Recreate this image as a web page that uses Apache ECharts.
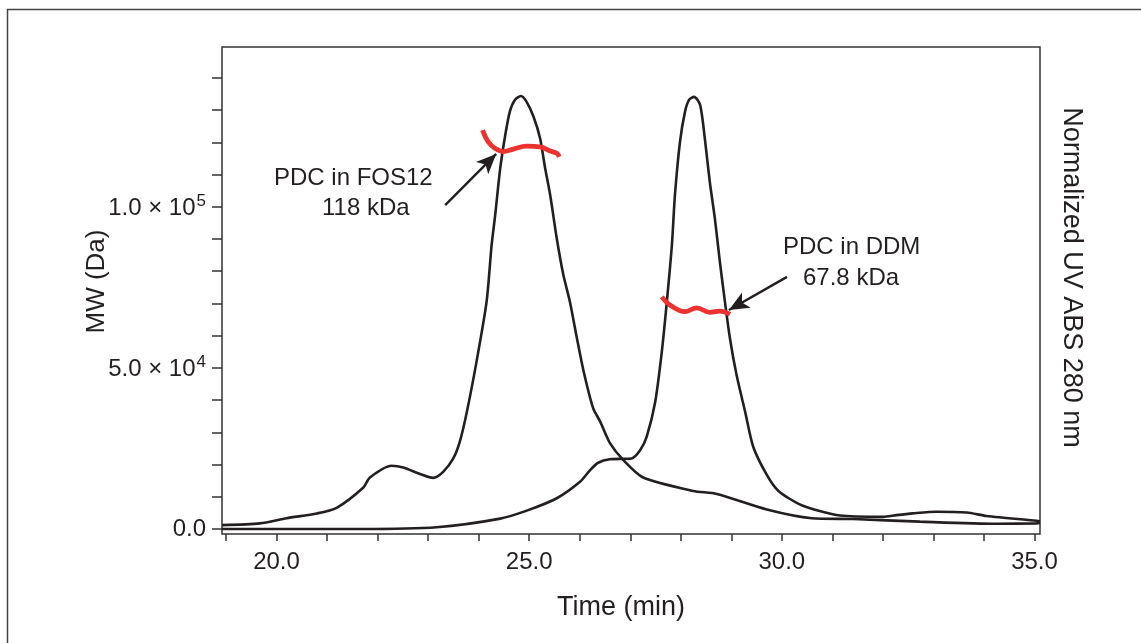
<!DOCTYPE html>
<html>
<head>
<meta charset="utf-8">
<script src="https://cdn.jsdelivr.net/npm/echarts@6/dist/echarts.min.js"></script>
<style>
  html, body { margin: 0; padding: 0; background: #fff; }
  #chart { width: 1141px; height: 643px; }
</style>
</head>
<body>
<div id="chart"></div>
<script>
// UV trace, PDC in FOS12 (normalized)
const fosTime = [18.92, 19.67, 20.2, 20.8, 21.19, 21.72, 21.85, 22.28, 22.51, 22.84, 23.1, 23.3, 23.5, 23.63, 23.77,
  23.96, 24.16, 24.26, 24.33, 24.43, 24.53, 24.62, 24.72, 24.84, 24.95, 25.09, 25.22, 25.32, 25.42, 25.55, 25.68,
  25.81, 25.95, 26.08, 26.27, 26.41, 26.6, 26.87, 27.26, 28.25, 28.72, 29.71, 30.6, 31.42, 32.74, 34.26, 35.05, 35.12];
const fosUv = [0.009, 0.013, 0.025, 0.036, 0.049, 0.096, 0.119, 0.146, 0.142, 0.127, 0.118, 0.132, 0.163, 0.202, 0.271,
  0.386, 0.525, 0.656, 0.725, 0.833, 0.91, 0.964, 0.991, 1.0, 0.987, 0.952, 0.902, 0.833, 0.771, 0.671, 0.587,
  0.525, 0.44, 0.365, 0.279, 0.248, 0.199, 0.159, 0.119, 0.088, 0.081, 0.045, 0.025, 0.023, 0.017, 0.012, 0.013, 0.014];

// UV trace, PDC in DDM (normalized)
const ddmTime = [18.92, 21.65, 23.17, 24.43, 24.97, 25.55, 26.01, 26.21, 26.37, 26.6, 27.03, 27.2, 27.33, 27.5, 27.63,
  27.73, 27.83, 27.89, 27.99, 28.09, 28.17, 28.27, 28.39, 28.49, 28.58, 28.68, 28.78, 28.88, 28.98, 29.11, 29.28,
  29.44, 29.71, 29.94, 30.4, 31.16, 32.01, 32.28, 32.6, 33.07, 33.67, 34.06, 35.05, 35.12];
const ddmUv = [0.0, 0.0, 0.004, 0.024, 0.043, 0.071, 0.109, 0.136, 0.153, 0.161, 0.163, 0.182, 0.213, 0.294, 0.409,
  0.525, 0.656, 0.771, 0.894, 0.964, 0.991, 0.998, 0.979, 0.894, 0.802, 0.718, 0.617, 0.525, 0.44, 0.356, 0.271,
  0.19, 0.125, 0.088, 0.055, 0.031, 0.028, 0.032, 0.036, 0.04, 0.038, 0.03, 0.019, 0.018];

// MW across the peaks (Da)
const fosMwTime = [24.08, 24.19, 24.33, 24.49, 24.69, 24.95, 25.22, 25.42, 25.55, 25.6];
const fosMw = [123900, 120300, 118200, 117200, 118000, 118900, 118700, 117400, 116700, 115600];
const ddmMwTime = [27.63, 27.79, 28.09, 28.32, 28.58, 28.78, 28.98];
const ddmMw = [72100, 69600, 67500, 68700, 67300, 67700, 66700];

// labelled ticks
const xLabels = [20, 25, 30, 35];
const yLabels = [0, 50000, 100000];

const black = '#231f20';
const red = '#ec3330';
const font = "'Liberation Sans', Arial, Helvetica, sans-serif";

const zip = (xs, ys) => xs.map((x, i) => [x, ys[i]]);

const yLabelText = (v) => {
  if (!yLabels.includes(v)) return '';
  if (v === 0) return '0.0';
  const exp = Math.floor(Math.log10(v));
  return '{m|' + (v / Math.pow(10, exp)).toFixed(1) + ' \u00d7 10}{s|' + exp + '}';
};

const chart = echarts.init(document.getElementById('chart'));

const option = {
  animation: false,
  textStyle: { fontFamily: font, color: black },
  grid: [
    // frame of the plot
    { left: 222, right: 101, top: 47, bottom: 109, show: true, borderColor: '#333', borderWidth: 1.5 },
    // y ticks (0 at baseline)
    { left: 222, right: 101, top: 77.8, bottom: 114 },
    // x ticks, 19 to 35
    { left: 226, right: 106.5, top: 47, bottom: 109 }
  ],
  xAxis: [
    {
      gridIndex: 0, type: 'value', min: 18.92, max: 35.12,
      axisLine: { show: false }, axisTick: { show: false }, axisLabel: { show: false }, splitLine: { show: false },
      name: 'Time (min)', nameLocation: 'middle', nameGap: 60,
      nameTextStyle: { fontSize: 27, color: black, padding: [0, 20, 0, 0] }
    },
    { gridIndex: 1, type: 'value', show: false, min: 0, max: 1 },
    {
      gridIndex: 2, type: 'value', min: 19, max: 35, interval: 1,
      axisLine: { show: false },
      axisTick: { show: true, length: 7, lineStyle: { color: '#333', width: 1.5 } },
      axisLabel: {
        fontSize: 24, color: black, margin: 16,
        formatter: (v) => xLabels.includes(v) ? v.toFixed(1) : ''
      },
      splitLine: { show: false }
    }
  ],
  yAxis: [
    {
      gridIndex: 0, type: 'value', min: -1550, max: 149700,
      axisLine: { show: false }, axisTick: { show: false }, axisLabel: { show: false }, splitLine: { show: false },
      name: 'MW (Da)', nameLocation: 'middle', nameGap: 112,
      nameTextStyle: { fontSize: 26, color: black, padding: [0, 0, 0, 18] }
    },
    {
      gridIndex: 0, type: 'value', position: 'right', min: -0.01155, max: 1.1132,
      axisLine: { show: false }, axisTick: { show: false }, axisLabel: { show: false }, splitLine: { show: false },
      name: 'Normalized UV ABS 280 nm', nameLocation: 'middle', nameGap: 18, nameRotate: -90,
      nameTextStyle: { fontSize: 27, color: black, padding: [0, 26, 0, 0] }
    },
    {
      gridIndex: 1, type: 'value', min: 0, max: 140000, interval: 10000,
      axisLine: { show: false },
      axisTick: { show: true, length: 10, lineStyle: { color: '#333', width: 1.5 } },
      axisLabel: {
        margin: 16, color: black, fontSize: 24,
        formatter: yLabelText,
        rich: {
          m: { fontSize: 24, color: black, fontFamily: font, verticalAlign: 'bottom' },
          s: { fontSize: 17, color: black, fontFamily: font, verticalAlign: 'bottom', padding: [0, 0, 11, 1] }
        }
      },
      splitLine: { show: false }
    },
    { gridIndex: 2, type: 'value', show: false, min: 0, max: 1 }
  ],
  series: [
    {
      name: 'UV FOS12', type: 'line', xAxisIndex: 0, yAxisIndex: 1,
      data: zip(fosTime, fosUv), showSymbol: false, smooth: 0.25,
      lineStyle: { color: black, width: 2.6 }
    },
    {
      name: 'UV DDM', type: 'line', xAxisIndex: 0, yAxisIndex: 1,
      data: zip(ddmTime, ddmUv), showSymbol: false, smooth: 0.25,
      lineStyle: { color: black, width: 2.6 }
    },
    {
      name: 'MW FOS12', type: 'line', xAxisIndex: 0, yAxisIndex: 0,
      data: zip(fosMwTime, fosMw), showSymbol: false, smooth: 0.4,
      lineStyle: { color: red, width: 4.8 },
      markLine: {
        silent: true, symbol: ['none', 'arrow'], symbolSize: [13, 20],
        label: { show: false },
        lineStyle: { color: black, width: 2.4, type: 'solid' },
        data: [[{ coord: [23.34, 100600] }, { coord: [24.35, 116500] }]]
      }
    },
    {
      name: 'MW DDM', type: 'line', xAxisIndex: 0, yAxisIndex: 0,
      data: zip(ddmMwTime, ddmMw), showSymbol: false, smooth: 0.4,
      lineStyle: { color: red, width: 4.8 },
      markLine: {
        silent: true, symbol: ['none', 'arrow'], symbolSize: [13, 20],
        label: { show: false },
        lineStyle: { color: black, width: 2.4, type: 'solid' },
        data: [[{ coord: [30.11, 78300] }, { coord: [28.96, 68000] }]]
      }
    }
  ],
  graphic: [
    { type: 'rect', silent: true, shape: { x: 7.5, y: 9.5, width: 1200, height: 700 },
      style: { fill: 'none', stroke: '#444', lineWidth: 1.5 } },
    { type: 'text', left: 274, top: 166, style: { text: 'PDC in FOS12', font: '24px ' + font, fill: black } },
    { type: 'text', left: 322, top: 196, style: { text: '118 kDa', font: '24px ' + font, fill: black } },
    { type: 'text', left: 783, top: 235, style: { text: 'PDC in DDM', font: '24px ' + font, fill: black } },
    { type: 'text', left: 803, top: 266, style: { text: '67.8 kDa', font: '24px ' + font, fill: black } }
  ]
};

chart.setOption(option);
</script>
</body>
</html>
